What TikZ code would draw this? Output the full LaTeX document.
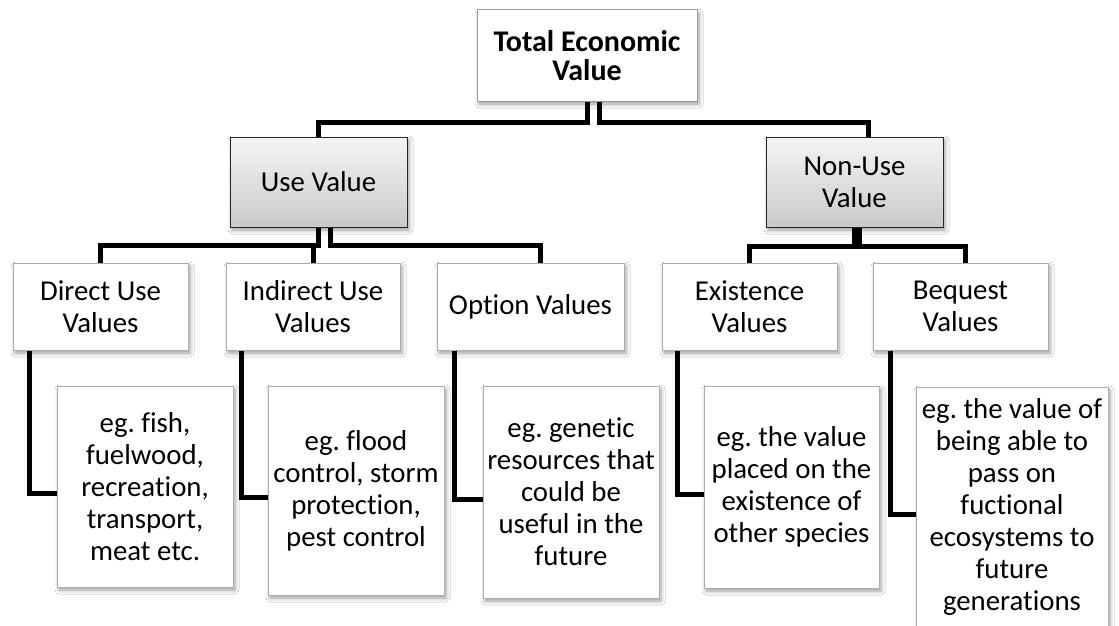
\documentclass[tikz,border=0pt]{standalone}
\usepackage{fontspec}
\setmainfont[Ligatures={NoCommon}]{Carlito}
\usetikzlibrary{shadows.blur}
\frenchspacing
\begin{document}
\begin{tikzpicture}[x=1pt,y=-1pt,
  box/.style={rectangle, draw=gray!65, line width=1pt, fill=white, inner sep=0pt,
    align=center, text=black, font=\fontsize{28.8}{32}\selectfont,
    blur shadow={shadow xshift=2pt, shadow yshift=-3pt, shadow blur radius=4pt, shadow opacity=40}},
  greybox/.style={box, draw=black!85, top color=gray!8, bottom color=gray!42},
  wh/.style 2 args={minimum width=#1pt, minimum height=#2pt},
  conn/.style={line width=5pt, black}
]
\fill[white] (0,0) rectangle (1119,626);
\useasboundingbox (0,0) rectangle (1119,626);

% top level
\node[box, draw=gray!80, wh={220}{91}, font=\bfseries\fontsize{30}{29}\selectfont]
  (tev) at (587,55.5) {Total Economic\\Value};

% second level
\node[greybox, wh={177}{90}] (use) at (318.5,182) {Use Value};
\node[greybox, wh={177}{90}] (non) at (854.5,182) {Non-Use\\Value};

% value categories
\node[box, wh={175}{87}] (dir) at (100.5,306.5) {Direct Use\\Values};
\node[box, wh={174}{87}] (ind) at (313,306.5) {Indirect Use\\Values};
\node[box, wh={187}{87}] (opt) at (530.5,306.5) {Option Values};
\node[box, wh={175}{87}] (exi) at (749.5,306.5) {Existence\\Values};
\node[box, wh={175}{87}] (beq) at (960.5,306.5) {Bequest\\Values};

% examples
\node[box, wh={176}{201}] (exd) at (145,486.5)
  {eg. fish,\\fuelwood,\\recreation,\\transport,\\meat etc.};
\node[box, wh={176}{209}] (exn) at (356,490.5)
  {eg. flood\\control, storm\\protection,\\pest control};
\node[box, wh={176}{212}] (exo) at (571,492)
  {eg. genetic\\resources that\\could be\\useful in the\\future};
\node[box, wh={175}{202}] (exe) at (791.5,487)
  {eg. the value\\placed on the\\existence of\\other species};
\node[box, wh={192}{240}] (exb) at (1012,507)
  {eg. the value of\\being able to\\pass on\\fuctional\\ecosystems to\\future\\generations};

% connectors from the top
\draw[conn] (tev.south) -- ++(0,21) -| (use.north);
\draw[conn] ([xshift=12pt]tev.south) -- ++(0,21) -| ([xshift=14pt]non.north);

% connectors from Use Value
\draw[conn] (use.south) -- ++(0,18) -| (dir.north);
\draw[conn] (use.south) -- ++(0,18) -| (ind.north);
\draw[conn] ([xshift=12pt]use.south) -- ++(0,18) -| ([xshift=10pt]opt.north);

% connectors from Non-Use Value
\draw[conn] (non.south) -- ++(0,19) -| (exi.north);
\draw[conn] ([xshift=5pt]non.south) -- ++(0,19) -| ([xshift=5pt]beq.north);

% elbows to the examples
\draw[conn] ([xshift=17pt]dir.south west) |- ([yshift=-7pt]exd.west);
\draw[conn] ([xshift=16pt]ind.south west) |- ([yshift=-7pt]exn.west);
\draw[conn] ([xshift=18pt]opt.south west) |- ([yshift=-7pt]exo.west);
\draw[conn] ([xshift=16pt]exi.south west) |- ([yshift=-7pt]exe.west);
\draw[conn] ([xshift=18pt]beq.south west) |- ([yshift=-7pt]exb.west);
\end{tikzpicture}
\end{document}
